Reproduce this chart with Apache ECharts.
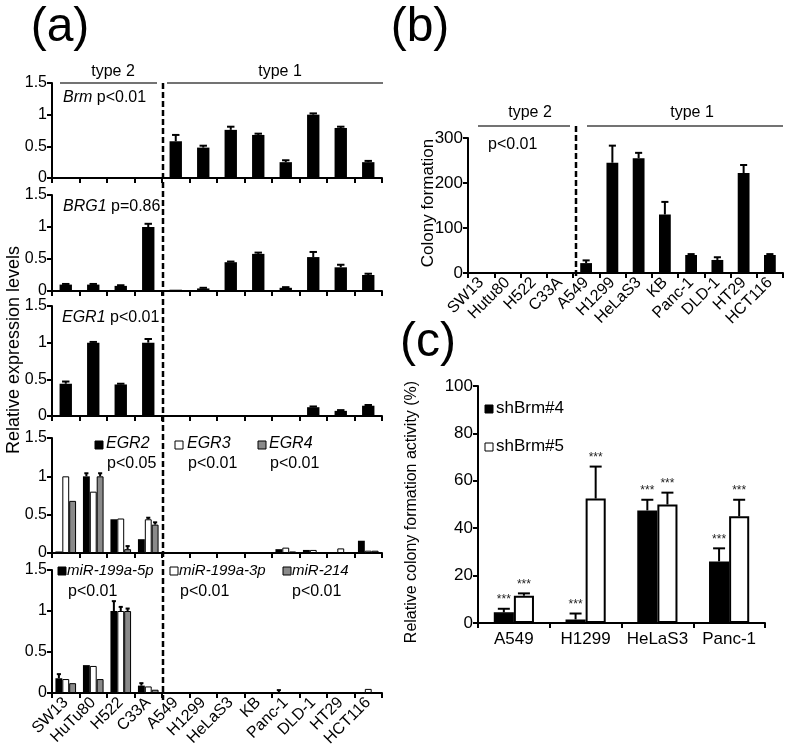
<!DOCTYPE html>
<html><head><meta charset="utf-8">
<script src="https://cdn.jsdelivr.net/npm/echarts@6/dist/echarts.min.js"></script>
<style>html,body{margin:0;padding:0;background:#fff}#c{width:797px;height:756px}</style>
</head><body><div id="c"></div>
<script>
// ---------- DATA ----------
const cellLines = ['SW13','HuTu80','H522','C33A','A549','H1299','HeLaS3','KB','Panc-1','DLD-1','HT29','HCT116'];
const cellLinesB = ['SW13','Hutu80','H522','C33A','A549','H1299','HeLaS3','KB','Panc-1','DLD-1','HT29','HCT116'];
const yTicksA = [0, 0.5, 1, 1.5];

const brm      = [0,0,0,0,0.58,0.48,0.76,0.68,0.25,1.00,0.79,0.25];
const brmErr   = [0,0,0,0,0.10,0.03,0.05,0.02,0.03,0.02,0.02,0.02];
const brg1     = [0.10,0.10,0.08,1.00,0.02,0.04,0.45,0.58,0.05,0.53,0.37,0.25];
const brg1Err  = [0.01,0.01,0.01,0.05,0,0.01,0.01,0.02,0.01,0.08,0.04,0.02];
const egr1     = [0.44,1.00,0.43,1.00,0,0,0,0,0.01,0.12,0.07,0.14];
const egr1Err  = [0.03,0.01,0.01,0.05,0,0,0,0,0,0.01,0.01,0.01];
const egr2     = [0.02,1.00,0.44,0.18,0,0,0,0,0.05,0.04,0.01,0.16];
const egr2Err  = [0,0.04,0,0,0,0,0,0,0,0,0,0];
const egr3     = [1.00,0.80,0.45,0.44,0,0,0,0,0.07,0.04,0.06,0.03];
const egr3Err  = [0,0,0,0.02,0,0,0,0,0,0,0,0];
const egr4     = [0.68,1.00,0.05,0.37,0,0,0,0,0.02,0.01,0,0.03];
const egr4Err  = [0,0.04,0.04,0.03,0,0,0,0,0,0,0,0];
const mir5p    = [0.18,0.34,1.00,0.09,0,0,0,0,0.005,0,0,0];
const mir5pErr = [0.05,0,0.12,0.03,0,0,0,0,0.03,0,0,0];
const mir3p    = [0.17,0.33,1.00,0.08,0,0,0,0,0,0,0,0.05];
const mir3pErr = [0,0,0.05,0,0,0,0,0,0,0,0,0];
const mir214   = [0.12,0.17,1.00,0.04,0,0,0,0,0,0,0,0];
const mir214Err= [0,0,0.03,0,0,0,0,0,0,0,0,0];

const colony    = [0,0,0,0,22,245,255,130,40,29,222,40];
const colonyErr = [0,0,0,0,6,38,12,28,2,6,18,2];

const cellsC  = ['A549','H1299','HeLaS3','Panc-1'];
const sh4     = [4.5,1.5,47.5,26];
const sh4Err  = [1.5,2.5,4.5,5.5];
const sh5     = [11.5,52.5,50,45];
const sh5Err  = [1,13.5,5,7];

// ---------- STYLE ----------
const FONT = "'Liberation Sans', Arial, sans-serif";
const BLACK = '#000', WHITE = '#fff', GRAY = '#8a8a8a';

const gridsA = [
  {left:52, top:83,  width:330, height:95},
  {left:52, top:195, width:330, height:96},
  {left:52, top:306, width:330, height:110},
  {left:52, top:438, width:330, height:115},
  {left:52, top:570, width:330, height:123}
];
const gridB = {left:468, top:138, width:315, height:135};
const gridC = {left:478, top:386, width:287, height:237};

function xAxis(gi, cats, showLabels, rotate, fs) {
  return {
    type:'category', gridIndex:gi, data:cats,
    axisLine:{lineStyle:{color:BLACK, width:2}},
    axisTick:{show:true, alignWithLabel:false, length:5, lineStyle:{color:BLACK, width:2}},
    axisLabel:{show:showLabels, rotate:rotate, interval:0, color:BLACK, fontFamily:FONT, fontSize:fs||16, margin:rotate?7:8}
  };
}
function yAxis(gi, max, interval, fs) {
  return {
    type:'value', gridIndex:gi, min:0, max:max, interval:interval,
    splitLine:{show:false},
    axisLine:{show:true, lineStyle:{color:BLACK, width:2}},
    axisTick:{show:true, length:5, lineStyle:{color:BLACK, width:2}},
    axisLabel:{color:BLACK, fontFamily:FONT, fontSize:fs||16, margin:5}
  };
}

function barSeries(gi, data, color, opts) {
  return Object.assign({
    type:'bar', xAxisIndex:gi, yAxisIndex:gi, data:data,
    itemStyle:{color:color, borderColor:BLACK, borderWidth: color===BLACK?0:1},
    silent:true, animation:false
  }, opts||{});
}

function errSeries(gi, vals, errs, nBars, idx, catGap, stars) {
  const data = vals.map((v,i)=>[i, v, errs[i]]);
  return {
    type:'custom', xAxisIndex:gi, yAxisIndex:gi, data:data, animation:false, silent:true, z:5,
    encode:{x:0, y:1},
    renderItem:function(params, api){
      const i = api.value(0), v = api.value(1), e = api.value(2);
      const catW = api.size([1,0])[0];
      const total = catW*(1-catGap);
      const bw = total/nBars;
      const off = -total/2 + bw*(idx+0.5);
      const p0 = api.coord([i, v]);
      const p1 = api.coord([i, v+e]);
      const x = p0[0] + off;
      const cap = Math.min(bw*0.6, 12);
      const children = [];
      if (e > 0) {
        children.push({type:'line', shape:{x1:x, y1:p0[1], x2:x, y2:p1[1]}, style:{stroke:BLACK, lineWidth:2}});
        children.push({type:'line', shape:{x1:x-cap/2, y1:p1[1], x2:x+cap/2, y2:p1[1]}, style:{stroke:BLACK, lineWidth:2}});
      }
      if (stars) {
        children.push({type:'text', style:{text:'***', x:x, y:p1[1]-3, textAlign:'center', textVerticalAlign:'bottom', fontSize:12, fontFamily:FONT, fill:'#222'}});
      }
      return {type:'group', children:children};
    }
  };
}

const xAxes = [], yAxes = [], series = [];
const singleA = [[brm,brmErr],[brg1,brg1Err],[egr1,egr1Err]];
singleA.forEach((d,gi)=>{
  xAxes.push(xAxis(gi, cellLines, false));
  yAxes.push(yAxis(gi, 1.5, 0.5));
  series.push(barSeries(gi, d[0], BLACK, {barWidth:'45%'}));
  series.push(errSeries(gi, d[0], d[1], 1, 0, 0.55));
});
// EGR panel (3)
xAxes.push(xAxis(3, cellLines, false));
yAxes.push(yAxis(3, 1.5, 0.5));
[[egr2,egr2Err,BLACK],[egr3,egr3Err,WHITE],[egr4,egr4Err,GRAY]].forEach((d,k)=>{
  series.push(barSeries(3, d[0], d[2], {barGap:'0%', barCategoryGap:'25%'}));
});
[[egr2,egr2Err],[egr3,egr3Err],[egr4,egr4Err]].forEach((d,k)=>series.push(errSeries(3, d[0], d[1], 3, k, 0.25)));
// miR panel (4)
xAxes.push(xAxis(4, cellLines, true, 45, 16));
yAxes.push(yAxis(4, 1.5, 0.5));
[[mir5p,BLACK],[mir3p,WHITE],[mir214,GRAY]].forEach(d=>{
  series.push(barSeries(4, d[0], d[1], {barGap:'0%', barCategoryGap:'25%'}));
});
[[mir5p,mir5pErr],[mir3p,mir3pErr],[mir214,mir214Err]].forEach((d,k)=>series.push(errSeries(4, d[0], d[1], 3, k, 0.25)));
// panel b
xAxes.push(xAxis(5, cellLinesB, true, 45, 16));
yAxes.push(yAxis(5, 300, 100, 17));
series.push(barSeries(5, colony, BLACK, {barWidth:'45%'}));
series.push(errSeries(5, colony, colonyErr, 1, 0, 0.55));
// panel c
xAxes.push(xAxis(6, cellsC, true, 0, 17));
yAxes.push(yAxis(6, 100, 20, 17));
series.push(barSeries(6, sh4, BLACK, {barGap:'0%', barCategoryGap:'44%', itemStyle:{color:BLACK, borderColor:BLACK, borderWidth:1.5}}));
series.push(barSeries(6, sh5, WHITE, {barGap:'0%', barCategoryGap:'44%', itemStyle:{color:WHITE, borderColor:BLACK, borderWidth:2}}));
series.push(errSeries(6, sh4, sh4Err, 2, 0, 0.44, true));
series.push(errSeries(6, sh5, sh5Err, 2, 1, 0.44, true));

// ---------- ANNOTATIONS ----------
function txt(x, y, text, fs, extra) {
  return {type:'text', left:x, top:y, style:Object.assign({text:text, fontSize:fs, fontFamily:FONT, fill:BLACK}, extra||{})};
}
function richTxt(x, y, text, fs) {
  return {type:'text', x:x, y:y, style:{text:text, fontSize:fs, fontFamily:FONT, fill:BLACK,
    rich:{i:{fontStyle:'italic', fontSize:fs, fontFamily:FONT, fill:BLACK}}}};
}
function sq(x, y, fill) {
  return {type:'rect', shape:{x:x, y:y, width:8, height:8}, style:{fill:fill, stroke:BLACK, lineWidth:1}};
}
function hline(x1, x2, y) {
  return {type:'line', shape:{x1:x1, y1:y, x2:x2, y2:y}, style:{stroke:'#444', lineWidth:1.3}};
}
function dash(x, y1, y2) {
  return {type:'line', shape:{x1:x, y1:y1, x2:x, y2:y2}, style:{stroke:BLACK, lineWidth:2.5, lineDash:[6,3]}};
}
function center(x, y, text, fs) {
  return {type:'text', x:x, y:y, style:{text:text, fontSize:fs, fontFamily:FONT, fill:BLACK, textAlign:'center', textVerticalAlign:'middle'}};
}

const graphic = [
  center(60, 28, '(a)', 48), center(420, 28, '(b)', 48), center(428, 343, '(c)', 48),
  // panel a headers
  center(113, 72, 'type 2', 16), center(280, 72, 'type 1', 16),
  hline(60, 157, 83), hline(167, 383, 83),
  dash(163, 83, 700),
  richTxt(63, 90, '{i|Brm} p<0.01', 16),
  richTxt(63, 199, '{i|BRG1} p=0.86', 16),
  richTxt(62, 310, '{i|EGR1} p<0.01', 16),
  // EGR legend
  sq(95, 441, BLACK), richTxt(106, 436, '{i|EGR2}', 16), txt(107, 456, 'p<0.05', 16),
  sq(175, 441, WHITE), richTxt(187, 436, '{i|EGR3}', 16), txt(188, 456, 'p<0.01', 16),
  sq(258, 441, GRAY), richTxt(269, 436, '{i|EGR4}', 16), txt(270, 456, 'p<0.01', 16),
  // miR legend
  sq(58, 567, BLACK), richTxt(67, 563, '{i|miR-199a-5p}', 15), txt(68, 584, 'p<0.01', 16),
  sq(170, 567, WHITE), richTxt(179, 563, '{i|miR-199a-3p}', 15), txt(180, 584, 'p<0.01', 16),
  sq(283, 567, GRAY), richTxt(292, 563, '{i|miR-214}', 15), txt(292, 584, 'p<0.01', 16),
  // y title a
  {type:'text', x:14, y:350, rotation:Math.PI/2, style:{text:'Relative expression levels', fontSize:18, fontFamily:FONT, fill:BLACK, textAlign:'center', textVerticalAlign:'middle'}},
  // panel b
  center(530, 113, 'type 2', 16), center(692, 113, 'type 1', 16),
  hline(478, 570, 126), hline(587, 783, 126),
  dash(576, 126, 277),
  txt(488, 137, 'p<0.01', 16),
  {type:'text', x:428, y:203, rotation:Math.PI/2, style:{text:'Colony formation', fontSize:17, fontFamily:FONT, fill:BLACK, textAlign:'center', textVerticalAlign:'middle'}},
  // panel c
  sq(485, 405, BLACK), txt(496, 400, 'shBrm#4', 17),
  sq(485, 443, WHITE), txt(496, 438, 'shBrm#5', 17),
  {type:'text', x:412, y:512, rotation:Math.PI/2, style:{text:'Relative colony formation activity (%)', fontSize:16, fontFamily:FONT, fill:BLACK, textAlign:'center', textVerticalAlign:'middle'}}
];

const chart = echarts.init(document.getElementById('c'), null, {renderer:'canvas'});
chart.setOption({
  animation:false,
  backgroundColor:'#fff',
  grid: gridsA.concat([gridB, gridC]),
  xAxis: xAxes, yAxis: yAxes, series: series,
  graphic: graphic
});
</script></body></html>
